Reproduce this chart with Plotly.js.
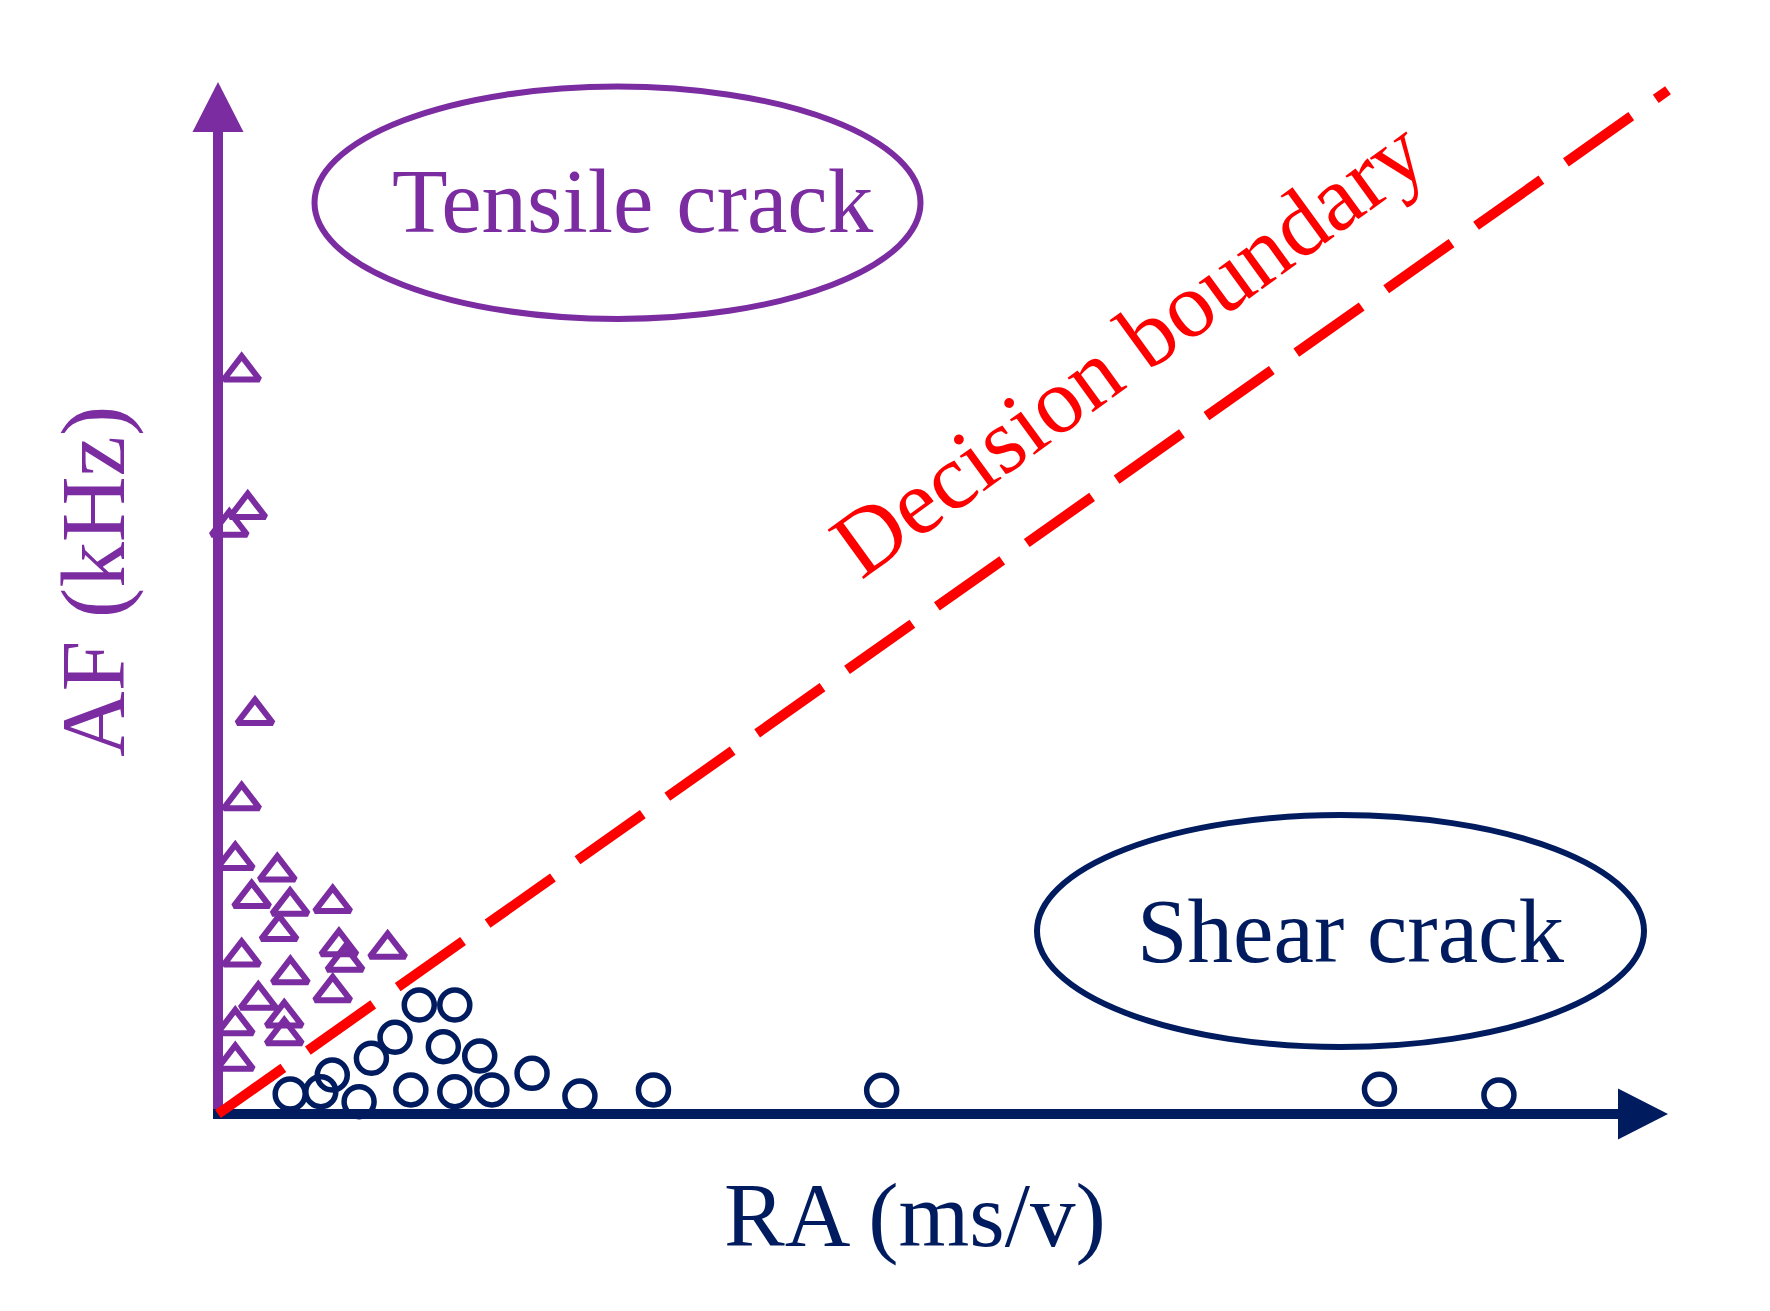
<!DOCTYPE html>
<html>
<head>
<meta charset="utf-8">
<script src="https://cdn.plot.ly/plotly-3.0.1.min.js"></script>
<style>html,body{margin:0;padding:0;background:#fff;}#chart{width:1770px;height:1311px;}</style>
</head>
<body>
<div id="chart"></div>
<script>
// ---- data (arbitrary units: RA 0..100, AF 0..100) ----
const tensileRA = [1.63, 2.05, 0.78, 2.55, 1.63, 1.19, 4.09, 2.32, 4.97, 7.91, 4.21, 8.34, 11.70, 1.63, 4.99, 8.76, 2.78, 7.91, 1.19, 4.57, 4.57, 1.19];
const tensileAF = [71.92, 58.60, 56.88, 38.64, 30.38, 24.60, 23.47, 20.90, 20.16, 20.41, 17.70, 16.23, 15.98, 15.23, 13.52, 14.74, 11.05, 11.78, 8.58, 9.32, 7.61, 5.14];
const shearRA = [4.98, 7.09, 7.88, 9.73, 10.58, 12.21, 13.88, 16.33, 15.54, 18.05, 13.30, 16.33, 18.89, 21.66, 24.96, 30.03, 45.77, 80.10, 88.34];
const shearAF = [1.94, 2.16, 3.78, 1.19, 5.40, 7.43, 10.56, 10.56, 6.52, 5.62, 2.33, 2.16, 2.33, 3.94, 1.74, 2.33, 2.29, 2.39, 1.84];
const boundaryRA = [0, 100];
const boundaryAF = [0, 99.2];
const xLabel = 'RA (ms/v)';
const yLabel = 'AF (kHz)';
const tensileLabel = 'Tensile crack';
const shearLabel = 'Shear crack';
const boundaryLabel = 'Decision boundary';

// ---- styling / geometry ----
const W = 1770, H = 1311;
const ox = 218, oy = 1114;          // pixel position of the origin
const pxX = 14.5, pxY = 10.32;      // pixels per data unit
const xr = [-ox / pxX, (W - ox) / pxX];
const yr = [-(H - oy) / pxY, oy / pxY];
const PURPLE = '#7a2ca0';
const NAVY = '#011b5f';
const RED = '#ff0000';
const FONT = 'Liberation Serif, Times New Roman, serif';
const FS = 91;

const px2x = p => (p - ox) / pxX;
const px2y = p => (oy - p) / pxY;

const traces = [
  {
    x: boundaryRA, y: boundaryAF, type: 'scatter', mode: 'lines',
    line: {color: RED, width: 10, dash: '80px,30px'},
    hoverinfo: 'skip', cliponaxis: false
  },
  {
    x: tensileRA, y: tensileAF, type: 'scatter', mode: 'markers',
    marker: {symbol: 'triangle-up-open', size: 31, color: PURPLE, line: {color: PURPLE, width: 6}},
    cliponaxis: false
  },
  {
    x: shearRA, y: shearAF, type: 'scatter', mode: 'markers',
    marker: {symbol: 'circle-open', size: 30, color: NAVY, line: {color: NAVY, width: 5.5}},
    cliponaxis: false
  }
];

const ahLen = 50, ahHalf = 25.5; // arrowhead pixel geometry
const yTip = 100, xTip = 100;
const yBase = yTip - ahLen / pxY;
const xBase = xTip - ahLen / pxX;

const shapes = [
  // vertical axis
  {type: 'line', layer: 'below', x0: 0, x1: 0, y0: 0, y1: yBase + 0.2, line: {color: PURPLE, width: 10}},
  {type: 'path', layer: 'below', path: `M ${-ahHalf/pxX} ${yBase} L ${ahHalf/pxX} ${yBase} L 0 ${yTip} Z`, fillcolor: PURPLE, line: {width: 0}},
  // horizontal axis
  {type: 'line', layer: 'below', x0: -5/pxX, x1: xBase + 0.2, y0: 0, y1: 0, line: {color: NAVY, width: 10}},
  {type: 'path', layer: 'below', path: `M ${xBase} ${-ahHalf/pxY} L ${xBase} ${ahHalf/pxY} L ${xTip} 0 Z`, fillcolor: NAVY, line: {width: 0}},
  // ellipses
  {type: 'circle', layer: 'below', x0: px2x(314.5), x1: px2x(920.5), y0: px2y(319), y1: px2y(86.5), line: {color: PURPLE, width: 6}},
  {type: 'circle', layer: 'below', x0: px2x(1037), x1: px2x(1644), y0: px2y(1047), y1: px2y(815), line: {color: NAVY, width: 6}}
];

const annotations = [
  {x: px2x(633), y: px2y(201), text: tensileLabel, showarrow: false, font: {family: FONT, size: FS, color: PURPLE}, xanchor: 'center', yanchor: 'middle'},
  {x: px2x(1350), y: px2y(931.5), text: shearLabel, showarrow: false, font: {family: FONT, size: FS, color: NAVY}, xanchor: 'center', yanchor: 'middle'},
  {x: px2x(915), y: px2y(1215), text: xLabel, showarrow: false, font: {family: FONT, size: FS, color: NAVY}, xanchor: 'center', yanchor: 'middle'},
  {x: px2x(93), y: px2y(582), text: yLabel, showarrow: false, textangle: -90, font: {family: FONT, size: FS, color: PURPLE}, xanchor: 'center', yanchor: 'middle'},
  {x: px2x(1128), y: px2y(347), text: boundaryLabel, showarrow: false, textangle: -36, font: {family: FONT, size: 93, color: RED}, xanchor: 'center', yanchor: 'middle'}
];

const layout = {
  width: W, height: H,
  margin: {l: 0, r: 0, t: 0, b: 0},
  paper_bgcolor: '#ffffff', plot_bgcolor: '#ffffff',
  showlegend: false,
  xaxis: {range: xr, visible: false, showgrid: false, zeroline: false, fixedrange: true},
  yaxis: {range: yr, visible: false, showgrid: false, zeroline: false, fixedrange: true},
  shapes: shapes,
  annotations: annotations
};

Plotly.newPlot('chart', traces, layout, {staticPlot: true, displayModeBar: false});
</script>
</body>
</html>
